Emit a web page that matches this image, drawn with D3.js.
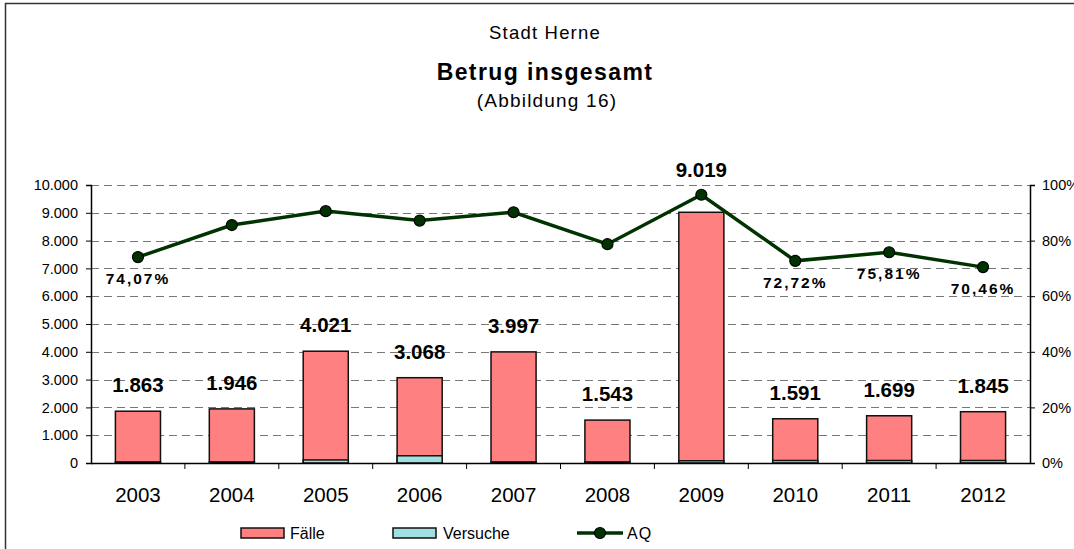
<!DOCTYPE html>
<html>
<head>
<meta charset="utf-8">
<script src="https://cdn.jsdelivr.net/npm/d3@7"></script>
<style>
  body { margin: 0; background: #fff; }
  svg { display: block; font-family: "Liberation Sans", Arial, sans-serif; }
</style>
</head>
<body>
<div id="chart"></div>
<script>
const years = ['2003', '2004', '2005', '2006', '2007', '2008', '2009', '2010', '2011', '2012']
const faelle = [1863, 1946, 4021, 3068, 3997, 1543, 9019, 1591, 1699, 1845]
const versuche = [40, 40, 110, 260, 40, 40, 80, 90, 90, 90]
const aq = [74.07, 85.6, 90.6, 87.2, 90.2, 78.7, 96.5, 72.72, 75.81, 70.46]
const aqLabelled = ['2003', '2010', '2011', '2012']
const leftTicks = d3.range(0, 10001, 1000)
const rightTicks = [0, 20, 40, 60, 80, 100]

const width = 1074
const height = 549
const margin = { top: 185, right: 44, bottom: 86, left: 91 }

const svg = d3.select('#chart')
  .append('svg')
  .attr('width', width)
  .attr('height', height)

// Rahmen
svg.append('rect')
  .attr('x', 5.5).attr('y', 3.5)
  .attr('width', width + 10).attr('height', height + 10)
  .attr('fill', 'none')
  .attr('stroke', '#333')
  .attr('stroke-width', 1.5)

// Titel
svg.append('text').attr('x', 545).attr('y', 39)
  .attr('text-anchor', 'middle').attr('font-size', 18.5).attr('letter-spacing', 1.2)
  .text('Stadt Herne')
svg.append('text').attr('x', 545).attr('y', 80)
  .attr('text-anchor', 'middle').attr('font-size', 23).attr('font-weight', 'bold')
  .attr('letter-spacing', 1.4).text('Betrug insgesamt')
svg.append('text').attr('x', 547).attr('y', 107)
  .attr('text-anchor', 'middle').attr('font-size', 19).attr('letter-spacing', 1.2)
  .text('(Abbildung 16)')

const x0 = margin.left
const x1 = width - margin.right
const y0 = height - margin.bottom
const y1 = margin.top

const x = d3.scaleBand().domain(years).range([x0, x1]).paddingInner(0.52).paddingOuter(0.26)
const xb = d3.scaleBand().domain(years).range([x0, x1])
const y = d3.scaleLinear().domain([0, 10000]).range([y0, y1])
const yr = d3.scaleLinear().domain([0, 100]).range([y0, y1])

// Gitterlinien
svg.append('g')
  .selectAll('line')
  .data(leftTicks.filter(d => d > 0))
  .enter()
  .append('line')
  .attr('x1', x0).attr('x2', x1)
  .attr('y1', d => Math.round(y(d)) + 0.5).attr('y2', d => Math.round(y(d)) + 0.5)
  .attr('stroke', '#777')
  .attr('stroke-dasharray', '8,5')

// Achsen
const leftAxis = svg.append('g')
  .attr('transform', `translate(${x0},0)`)
  .call(d3.axisLeft(y).tickValues(leftTicks).tickSize(5).tickPadding(8)
    .tickFormat(d => d3.format(',')(d).replace(/,/g, '.')))
const rightAxis = svg.append('g')
  .attr('transform', `translate(${x1},0)`)
  .call(d3.axisRight(yr).tickValues(rightTicks).tickSize(5).tickPadding(7)
    .tickFormat(d => d + '%'))
;[leftAxis, rightAxis].forEach(a => {
  a.select('.domain').attr('stroke', '#000').attr('stroke-width', 1.5)
  a.selectAll('.tick line').attr('stroke', '#000')
  a.selectAll('text').attr('font-size', 14.5).attr('fill', '#000')
    .attr('font-family', '"Liberation Sans", Arial, sans-serif')
})

// Balken Fälle
svg.append('g')
  .selectAll('rect')
  .data(years)
  .enter()
  .append('rect')
  .attr('x', d => x(d))
  .attr('width', x.bandwidth())
  .attr('y', (d, i) => y(faelle[i]))
  .attr('height', (d, i) => y(0) - y(faelle[i]))
  .attr('fill', '#FF8080')
  .attr('stroke', '#111')
  .attr('stroke-width', 1.5)

// Balken Versuche
svg.append('g')
  .selectAll('rect')
  .data(years)
  .enter()
  .append('rect')
  .attr('x', d => x(d))
  .attr('width', x.bandwidth())
  .attr('y', (d, i) => y(versuche[i]))
  .attr('height', (d, i) => y(0) - y(versuche[i]))
  .attr('fill', '#A0E0E0')
  .attr('stroke', '#111')
  .attr('stroke-width', 1.5)

// X-Achse
svg.append('line')
  .attr('x1', x0).attr('x2', x1)
  .attr('y1', y0 + 0.5).attr('y2', y0 + 0.5)
  .attr('stroke', '#000').attr('stroke-width', 1.5)
svg.append('g')
  .selectAll('line')
  .data(years.slice(1))
  .enter()
  .append('line')
  .attr('x1', d => xb(d)).attr('x2', d => xb(d))
  .attr('y1', y0).attr('y2', y0 + 6)
  .attr('stroke', '#000')
svg.append('g')
  .selectAll('text')
  .data(years)
  .enter()
  .append('text')
  .attr('x', d => x(d) + x.bandwidth() / 2)
  .attr('y', y0 + 39)
  .attr('text-anchor', 'middle')
  .attr('font-size', 20.5)
  .text(d => d)

// Linie AQ
const cx = d => x(d) + x.bandwidth() / 2
const line = d3.line()
  .x(d => cx(d))
  .y((d, i) => yr(aq[i]))
svg.append('path')
  .datum(years)
  .attr('d', line)
  .attr('fill', 'none')
  .attr('stroke', '#003300')
  .attr('stroke-width', 3.5)
svg.append('g')
  .selectAll('circle')
  .data(years)
  .enter()
  .append('circle')
  .attr('cx', d => cx(d))
  .attr('cy', (d, i) => yr(aq[i]))
  .attr('r', 5.5)
  .attr('fill', '#003300')
  .attr('stroke', '#000')
  .attr('stroke-width', 1.2)

// Werte Fälle
svg.append('g')
  .selectAll('text')
  .data(years)
  .enter()
  .append('text')
  .attr('x', d => cx(d))
  .attr('y', (d, i) => {
    let ly = y(faelle[i]) - 19
    if (Math.abs(ly - 6 - yr(aq[i])) < 20) ly = yr(aq[i]) - 18
    return ly
  })
  .attr('text-anchor', 'middle')
  .attr('font-size', 20.5)
  .attr('font-weight', 'bold')
  .text((d, i) => d3.format(',')(faelle[i]).replace(/,/g, '.'))

// Werte AQ
svg.append('g')
  .selectAll('text')
  .data(years.filter(d => aqLabelled.includes(d)))
  .enter()
  .append('text')
  .attr('x', d => cx(d))
  .attr('y', d => yr(aq[years.indexOf(d)]) + 27)
  .attr('text-anchor', 'middle')
  .attr('font-size', 15.5)
  .attr('font-weight', 'bold')
  .attr('letter-spacing', 2)
  .text(d => aq[years.indexOf(d)].toFixed(2).replace('.', ',') + '%')

// Legende
const legend = svg.append('g').attr('font-size', 16)
legend.append('rect').attr('x', 241).attr('y', 528).attr('width', 43).attr('height', 10)
  .attr('fill', '#FF8080').attr('stroke', '#111').attr('stroke-width', 1.5)
legend.append('text').attr('x', 290).attr('y', 539).text('Fälle')
legend.append('rect').attr('x', 393).attr('y', 528).attr('width', 43).attr('height', 10)
  .attr('fill', '#A0E0E0').attr('stroke', '#111').attr('stroke-width', 1.5)
legend.append('text').attr('x', 443).attr('y', 539).text('Versuche')
legend.append('line').attr('x1', 577).attr('x2', 623).attr('y1', 533).attr('y2', 533)
  .attr('stroke', '#003300').attr('stroke-width', 3.5)
legend.append('circle').attr('cx', 600).attr('cy', 533).attr('r', 5.5)
  .attr('fill', '#003300').attr('stroke', '#000').attr('stroke-width', 1.2)
legend.append('text').attr('x', 627).attr('y', 539).attr('letter-spacing', 1).text('AQ')
</script>
</body>
</html>
